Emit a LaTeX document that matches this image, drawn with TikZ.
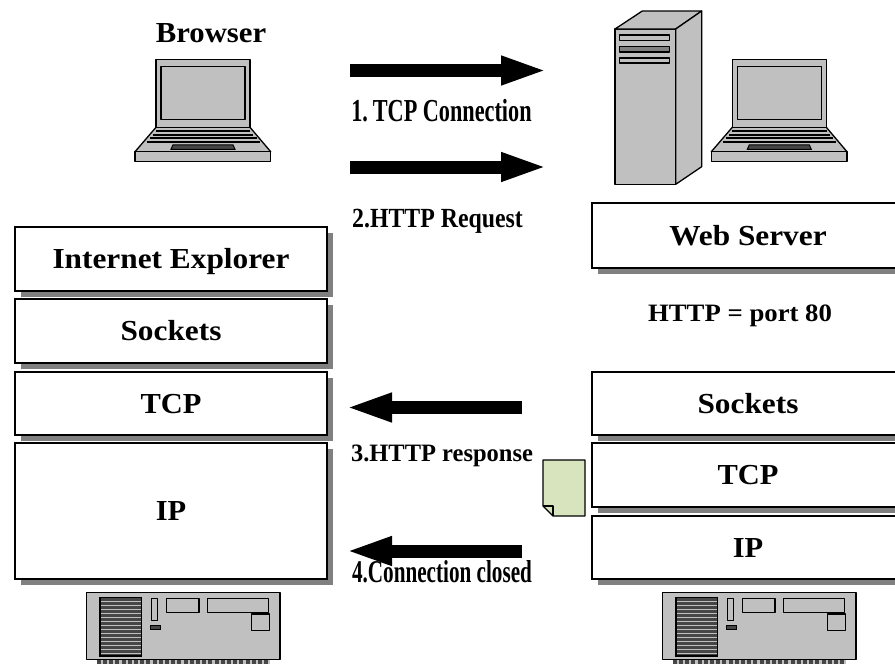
\documentclass[tikz,border=0pt]{standalone}
\usepackage{fontspec}
\setmainfont{Liberation Serif}
\usepackage{graphicx}
\usetikzlibrary{arrows.meta,shadows}
\definecolor{devgray}{RGB}{192,192,192}
\definecolor{darkdev}{RGB}{70,70,70}
\definecolor{shadowgray}{RGB}{128,128,128}
\definecolor{docgreen}{RGB}{215,228,189}
% size, horizontal scale, text
\newcommand{\sqz}[3]{{\fontsize{#1}{#1}\selectfont\scalebox{#2}[1]{#3}}}

\begin{document}
\begin{tikzpicture}[x=1pt,y=-1pt,
  layer/.style={draw, line width=1.6pt, fill=white, minimum width=312pt,
    inner sep=0pt, text height=19.3pt, text depth=0pt,
    font=\bfseries\fontsize{29}{29}\selectfont,
    drop shadow={shadow xshift=5.5pt, shadow yshift=-5.5pt, fill=shadowgray, opacity=1}},
  lbl/.style={inner sep=0pt, anchor=base, font=\bfseries},
  fatarr/.style={line width=13pt, -{Triangle[length=47pt,width=26pt]}, shorten >=-5pt},
  dev/.style={fill=devgray, draw=black, line width=1.3pt, line join=round},
  darkpart/.style={fill=darkdev, draw=black, line width=1pt},
  laptop/.pic={
    \filldraw[dev] (0,68) -- (94,68) -- (114.7,92.4) -- (-21,92.4) -- cycle;
    \filldraw[dev] (-21,92.4) rectangle (114.7,102.4);
    \foreach \yy/\ll/\rr in {72/-0.4/94.4, 75.5/-3.4/97.4, 79/-6.5/100.5, 82.5/-9.5/103.5}
      \draw[line width=2pt] (\ll,\yy) -- (\rr,\yy);
    \filldraw[darkpart] (17,85.5) -- (77,85.5) -- (79,90) -- (15,90) -- cycle;
    \filldraw[dev] (0,0) rectangle (94,68);
    \filldraw[dev] (5,7.4) rectangle (89,60);
  },
  desktop/.pic={
    \fill[devgray] (10,66.6) rectangle (183.3,71.5);
    \draw[line width=4pt, dash pattern=on 4pt off 2.2pt, darkdev] (10,69) -- (183.3,69);
    \filldraw[dev] (0,0) rectangle (193.3,66.6);
    \filldraw[fill=darkdev, draw=black, line width=1.2pt] (13.3,4.6) rectangle (55,63.3);
    \foreach \k in {0,...,13}
      \draw[devgray, line width=0.9pt] (14.5,8.5+4*\k) -- (53.8,8.5+4*\k);
    \filldraw[dev] (65,5.6) rectangle (70.6,28);
    \filldraw[darkpart] (63.3,33) rectangle (74,36.6);
    \filldraw[dev] (80,5.6) rectangle (112.3,19.6);
    \filldraw[dev] (120.6,5.6) rectangle (181.6,19.6);
    \filldraw[dev] (165,21.3) rectangle (182.6,38);
  }
]
\clip (0,0) rectangle (895,664);

% client protocol stack
\node[layer, minimum height=64pt] (lie)   at (171,259)   {\scalebox{1.08}[1]{Internet Explorer}};
\node[layer, minimum height=64pt] (lsock) at (171,331)   {\scalebox{1.08}[1]{Sockets}};
\node[layer, minimum height=63pt] (ltcp)  at (171,403.5) {\scalebox{1.05}[1]{TCP}};
\node[layer, minimum height=136pt] (lip)  at (171,511)   {\scalebox{1.05}[1]{IP}};

% server protocol stack
\node[layer, minimum height=65pt] (web)   at (748,235.5) {\scalebox{1.08}[1]{Web Server}};
\node[layer, minimum height=63pt] (rsock) at (748,403.5) {\scalebox{1.08}[1]{Sockets}};
\node[layer, minimum height=64pt] (rtcp)  at (748,475)   {\scalebox{1.05}[1]{TCP}};
\node[layer, minimum height=63pt] (rip)   at (748,547.5) {\scalebox{1.05}[1]{IP}};

% labels
\node[lbl] (browser) at (211,42.7)   {\sqz{29}{1.06}{Browser}};
\node[lbl] (port)    at (740,321.7)  {\sqz{25}{1.07}{HTTP = port 80}};
\node[lbl] (step1)   at (441.5,121)  {\sqz{32}{0.695}{1.\kern-1pt\ TCP Connection}};
\node[lbl] (step2)   at (437.5,227.7){\sqz{27.7}{0.86}{2.HTTP Request}};
\node[lbl] (step3)   at (442,461.7)  {\sqz{25}{0.98}{3.HTTP response}};
\node[lbl] (step4)   at (442,582.7)  {\sqz{31.7}{0.668}{4.Connection closed}};

% block arrows
\coordinate (a1s) at (350,70.5);  \coordinate (a1e) at (543,70.5);
\coordinate (a2s) at (350,167);   \coordinate (a2e) at (543,167);
\coordinate (a3s) at (522,407.5); \coordinate (a3e) at (350,407.5);
\coordinate (a4s) at (522,551);   \coordinate (a4e) at (350,551);
\draw[fatarr] (a1s) -- (a1e);
\draw[fatarr] (a2s) -- (a2e);
\draw[fatarr] (a3s) -- (a3e);
\draw[fatarr] (a4s) -- (a4e);

% response document
\filldraw[fill=docgreen, draw=black, line width=1.3pt, line join=round]
  (543,460) -- (585,460) -- (585,516) -- (553,516) -- (543,506) -- cycle;
\draw[line width=1.3pt, line join=round] (543,506) -- (553,506) -- (553,516);

% client laptop
\pic at (156,59.3) {laptop};

% server tower
\filldraw[dev] (615,29) rectangle (675.7,184.3);
\filldraw[dev] (615,29) -- (642.3,11) -- (701.7,11) -- (675.7,29) -- cycle;
\filldraw[dev] (675.7,29) -- (701.7,11) -- (701.7,166.7) -- (675.7,184.3) -- cycle;
\filldraw[dev] (619.3,35) rectangle (669.3,40.5);
\filldraw[dev, fill=gray] (619.3,46.5) rectangle (669.3,52);
\filldraw[dev] (619.3,58) rectangle (669.3,63);

% server laptop
\pic at (732.3,59.3) {laptop};

% desktop units
\pic at (86.7,592.7) {desktop};
\pic at (662.7,592.7) {desktop};
\end{tikzpicture}
\end{document}
